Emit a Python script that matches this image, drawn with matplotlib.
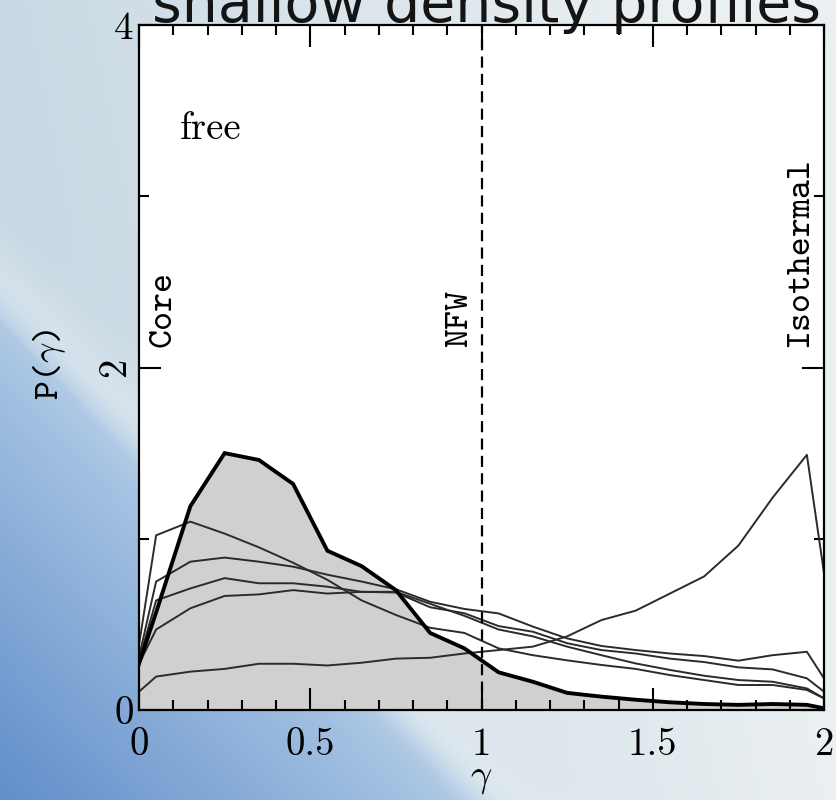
import numpy as np
import matplotlib
matplotlib.use("Agg")
import matplotlib.pyplot as plt

plt.rcParams['mathtext.fontset'] = 'cm'
plt.rcParams['lines.scale_dashes'] = False

# ---------------- data ----------------
gamma = [0.0, 0.05, 0.15, 0.25, 0.35, 0.45, 0.55, 0.65, 0.75, 0.85, 0.95,
         1.05, 1.15, 1.25, 1.35, 1.45, 1.55, 1.65, 1.75, 1.85, 1.95, 2.0]

p_free = [0.27, 0.57, 1.19, 1.50, 1.46, 1.32, 0.93, 0.84, 0.70, 0.45, 0.36,
          0.22, 0.165, 0.10, 0.078, 0.06, 0.045, 0.035, 0.03, 0.035, 0.03, 0.01]

p_a = [0.38, 1.02, 1.10, 1.03, 0.95, 0.86, 0.76, 0.64, 0.555, 0.48, 0.45,
       0.36, 0.32, 0.29, 0.263, 0.24, 0.204, 0.175, 0.146, 0.146, 0.117, 0.068]
p_b = [0.31, 0.75, 0.866, 0.89, 0.866, 0.837, 0.79, 0.75, 0.705, 0.632, 0.59,
       0.564, 0.487, 0.418, 0.374, 0.35, 0.33, 0.315, 0.288, 0.32, 0.34, 0.185]
p_c = [0.29, 0.64, 0.71, 0.77, 0.74, 0.74, 0.72, 0.69, 0.686, 0.60, 0.565,
       0.49, 0.457, 0.39, 0.35, 0.33, 0.30, 0.28, 0.249, 0.237, 0.185, 0.107]
p_d = [0.27, 0.47, 0.594, 0.666, 0.675, 0.70, 0.68, 0.69, 0.69, 0.62, 0.55,
       0.47, 0.43, 0.37, 0.32, 0.272, 0.234, 0.20, 0.175, 0.165, 0.126, 0.068]
p_iso = [0.107, 0.195, 0.224, 0.24, 0.27, 0.27, 0.26, 0.276, 0.30, 0.305, 0.33,
         0.35, 0.37, 0.43, 0.525, 0.58, 0.68, 0.78, 0.96, 1.24, 1.49, 0.80]

thin_series = [p_a, p_b, p_c, p_d, p_iso]

x_major = [0, 0.5, 1, 1.5, 2]
x_labels = ["0", "0.5", "1", "1.5", "2"]
y_major = [0, 2, 4]
y_labels = ["0", "2", "4"]
y_minor = [1, 3]
nfw_gamma = 1.0

# ---------------- figure ----------------
W, H = 836, 800
fig = plt.figure(figsize=(W / 100, H / 100), dpi=100)

# slide background (decorative gradient)
yy, xx = np.mgrid[0:H, 0:W].astype(float)
x0, y0, x1, y1 = 0.0, 305.0, 480.0, 800.0
dxl, dyl = x1 - x0, y1 - y0
d = ((xx - x0) * dyl - (yy - y0) * dxl) / np.hypot(dxl, dyl)
t = np.clip(-d / 380.0, 0, 1)[..., None]
blue_near = np.array([0.68, 0.79, 0.90])
blue_far = np.array([0.35, 0.53, 0.78])
blue = blue_near * (1 - t) + blue_far * t
s = np.clip((xx + (H - yy) * 0.2) / W, 0, 1)[..., None]
light_l = np.array([0.76, 0.83, 0.88])
light_r = np.array([0.92, 0.94, 0.95])
light = light_l * (1 - s) + light_r * s
hl = np.exp(-(d / 40.0) ** 2)[..., None] * (d > -10)[..., None]
light = light * (1 - 0.6 * hl) + np.array([0.93, 0.95, 0.96]) * 0.6 * hl
w = 1.0 / (1.0 + np.exp(d / 10.0))[..., None]
img = blue * w + light * (1 - w)
bg = fig.add_axes([0, 0, 1, 1], zorder=-10)
bg.imshow(np.clip(img, 0, 1), aspect='auto', extent=(0, 1, 0, 1))
bg.axis('off')

fig.text(152 / W, 1 - 22 / H, "shallow density profiles", family="DejaVu Sans",
         fontsize=41, color="#141414", ha="left", va="baseline")

ax = fig.add_axes([139 / W, 90 / H, 685 / W, 685 / H])
ax.set_facecolor("white")

ax.fill_between(gamma, p_free, 0, color="#d0d0d0", lw=0, zorder=1)
for ser in thin_series:
    ax.plot(gamma, ser, color="#2b2b2b", lw=1.4, zorder=2)
ax.plot(gamma, p_free, color="black", lw=2.8, zorder=3, solid_joinstyle="miter")
ax.axvline(nfw_gamma, color="black", lw=1.6, dashes=(8, 4.5), zorder=4)

ax.set_xlim(0, 2)
ax.set_ylim(0, 4)
ax.set_xticks(x_major)
ax.set_xticks(np.arange(0, 2.01, 0.1), minor=True)
ax.set_yticks(y_major)
ax.set_yticks(y_minor, minor=True)
ax.set_xticklabels(x_labels, fontfamily="cmr10", fontsize=28)
ax.set_yticklabels(y_labels, fontfamily="cmr10", fontsize=28)
for lbl in ax.get_yticklabels():
    if lbl.get_text() == "2":
        lbl.set_rotation(90)
        lbl.set_va("center")
ax.tick_params(which="both", direction="in", top=True, right=True,
               width=1.5, color="black")
ax.tick_params(which="major", length=15.5)
ax.tick_params(which="minor", length=7.5)
ax.tick_params(axis="x", which="major", pad=12)
ax.tick_params(axis="y", which="major", pad=4)
for sp in ax.spines.values():
    sp.set_linewidth(1.6)

ax.set_xlabel(r"$\gamma$", fontsize=27, va="center")
ax.xaxis.set_label_coords(0.5, -0.099)
ax.set_ylabel(r"P($\gamma$)", fontfamily="cmtt10", fontsize=26, va="center")
ax.yaxis.set_label_coords(-0.13, 0.504)

ax.text(0.12, 3.39, "free", fontfamily="cmr10", fontsize=28, ha="left", va="center")
ax.text(0.0715, 2.12, "Core", fontfamily="cmtt10", fontsize=26, rotation=90,
        ha="center", va="bottom")
ax.text(0.937, 2.12, "NFW", fontfamily="cmtt10", fontsize=26, rotation=90,
        ha="center", va="bottom")
ax.text(1.93, 2.12, "Isothermal", fontfamily="cmtt10", fontsize=26, rotation=90,
        ha="center", va="bottom")

fig.savefig("out.png", dpi=100)
